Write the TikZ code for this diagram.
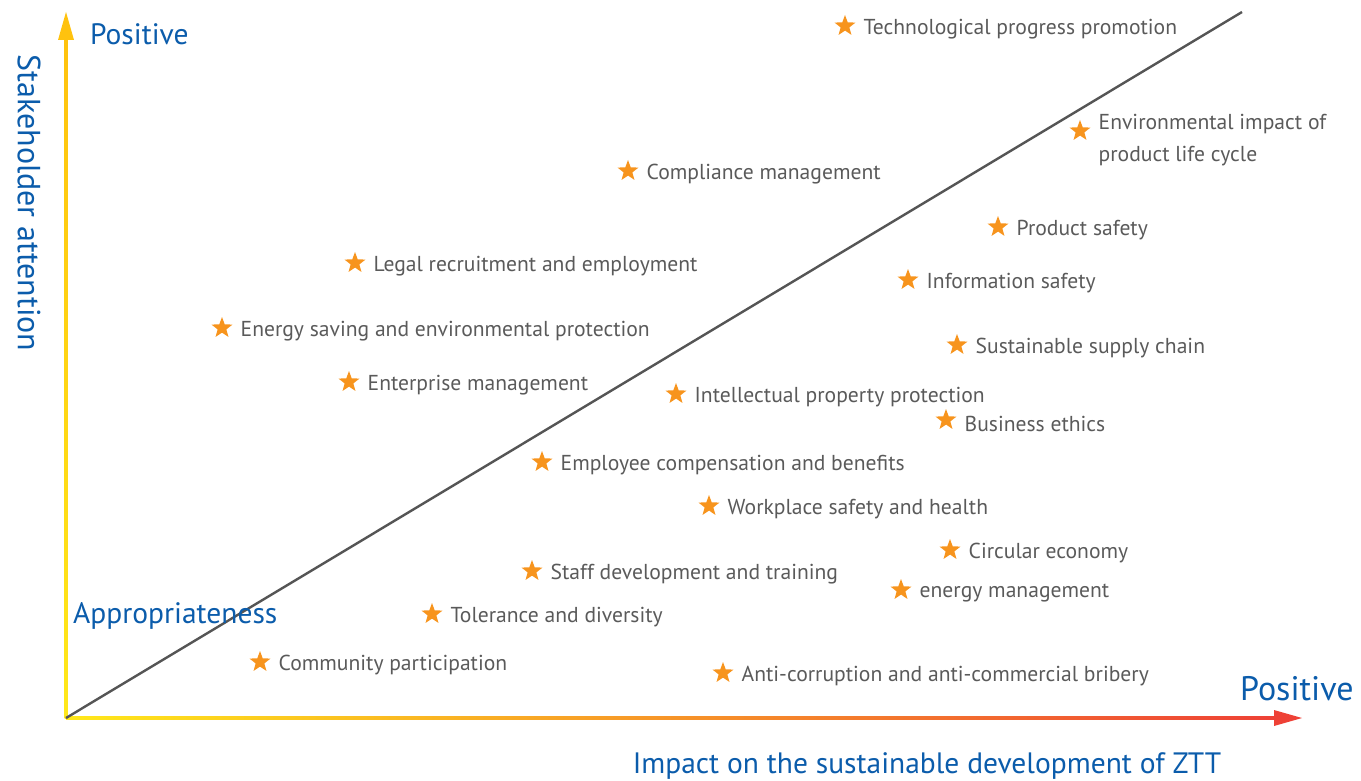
\documentclass[tikz,border=0pt]{standalone}
\usepackage{fontspec}
\setmainfont{PT Sans}
\usetikzlibrary{shapes.geometric,positioning}
\definecolor{starorange}{HTML}{F7941D}
\definecolor{labelgray}{HTML}{5A5A5A}
\definecolor{axisblue}{HTML}{0B5CAB}
\definecolor{axisyellow}{HTML}{FFC20E}
\definecolor{axislight}{HTML}{FFE81A}
\definecolor{axisred}{HTML}{EE4136}
\definecolor{diaggray}{HTML}{555555}

\begin{document}
\begin{tikzpicture}[x=1pt,y=-1pt,
  issue/.style={star,star points=5,star point ratio=2.4,fill=starorange,draw=none,minimum size=22pt,inner sep=0pt},
  lbl/.style={text=labelgray,font=\fontsize{21.6}{32}\selectfont,inner sep=0pt,align=left},
  axislbl/.style={text=axisblue,font=\fontsize{29.5}{32}\selectfont,inner sep=0pt}]
\useasboundingbox (0,0) rectangle (1361,781);
% axes
\coordinate (O) at (66,718);
\coordinate (Ytip) at (66,12);
\coordinate (Xtip) at (1302,718);
\coordinate (D) at (1242,12);
\shade[bottom color=axislight,top color=axisyellow] (64.5,718) rectangle (67.5,38);
\fill[axisyellow] (58,40) -- (Ytip) -- (74,40) -- cycle;
\shade[left color=axislight,middle color=axisyellow!60!orange,right color=axisred] (66,716.5) rectangle (1276,719.5);
\fill[axisred] (1274,710) -- (Xtip) -- (1274,726) -- cycle;
\draw[diaggray,line width=2.4pt] (O) -- (D);
% axis labels
\node[axislbl,anchor=west] (ypos) at (90,34) {Positive};
\node[axislbl,font=\fontsize{34}{36}\selectfont,anchor=west] (xpos) at (1240,689) {Positive};
\node[axislbl,anchor=west] (appr) at (73,616) {Appropriateness};
\node[axislbl] (xname) at (927,766) {Impact on the sustainable development of ZTT};
\node[axislbl,font=\fontsize{32}{34}\selectfont,rotate=-90] (yname) at (29,203) {Stakeholder attention};
% issues
\node[issue] (senv) at (1080,131) {};
\node[lbl,right=12pt of senv,yshift=-9pt] (lenv) {Environmental impact of\\product life cycle};
\foreach \x/\y/\n/\t in {845/26/tech/Technological progress promotion,
  628/171/comp/Compliance management,
  998/227/prod/Product safety,
  355/263/legal/Legal recruitment and employment,
  908/280/info/Information safety,
  222/328/save/Energy saving and environmental protection,
  957/345/supply/Sustainable supply chain,
  349/382/ent/Enterprise management,
  676/394/ip/Intellectual property protection,
  946/420/ethics/Business ethics,
  542/462/comp2/Employee compensation and benefits,
  709/506/work/Workplace safety and health,
  950/550/circ/Circular economy,
  532/571/staff/Staff development and training,
  901/590/energy/energy management,
  432/614/tol/Tolerance and diversity,
  260/662/comm/Community participation,
  723/673/anti/Anti-corruption and anti-commercial bribery}
{
  \node[issue] (s\n) at (\x,\y) {};
  \node[lbl,right=12pt of s\n,yshift=-3.5pt] (l\n) {\t};
}
\end{tikzpicture}
\end{document}
